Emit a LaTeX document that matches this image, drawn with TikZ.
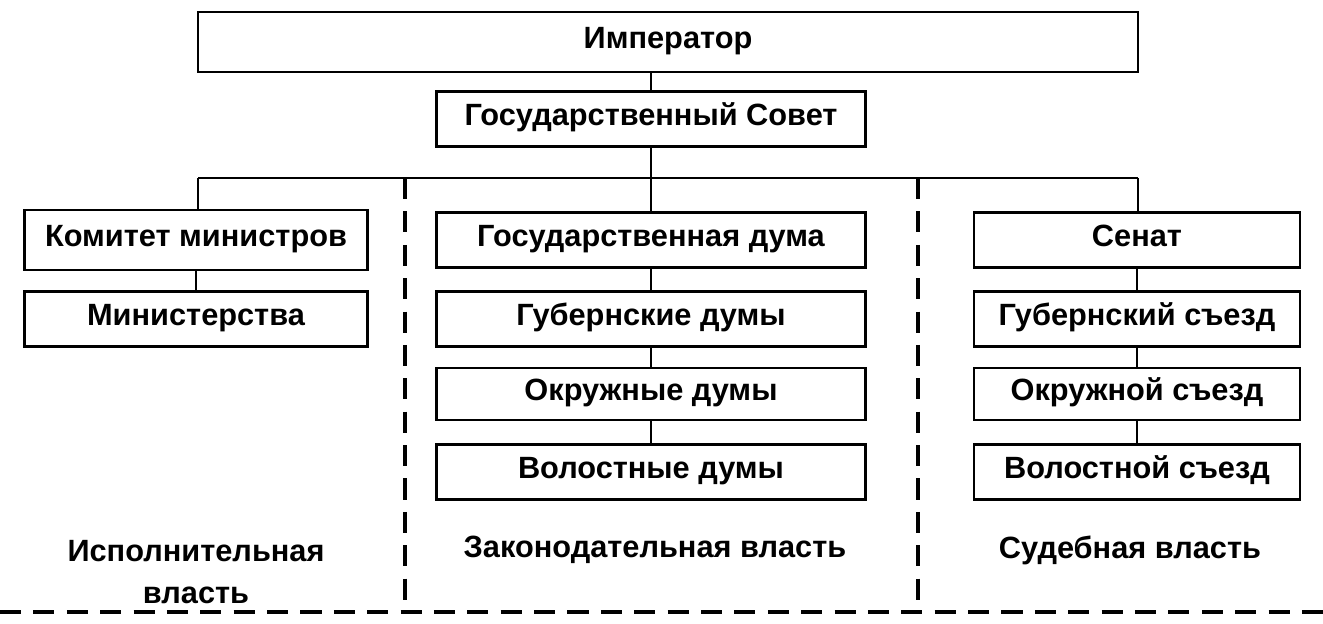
\documentclass[tikz,border=0pt]{standalone}
\usepackage{fontspec}
\setmainfont{Liberation Sans}
\begin{document}
\begin{tikzpicture}[x=0.02cm,y=-0.02cm,
  box/.style={draw,line width=1.4pt,minimum height=1.1cm,inner sep=0pt,text height=1.6ex,text depth=0.1ex,font=\fontsize{17.5}{20}\selectfont\bfseries},
  lbl/.style={align=center,font=\fontsize{17.5}{24}\selectfont\bfseries},
  brd/.style={line width=2pt,dash pattern=on 12pt off 7pt}]
\useasboundingbox (0,0) rectangle (1323,624);
% top
\node[box,minimum width=18.8cm,minimum height=1.2cm] (imp) at (668,42) {Император};
\node[box,minimum width=8.58cm] (sov) at (651,119) {Государственный Совет};
% executive
\node[box,minimum width=6.86cm,minimum height=1.2cm] (kom) at (196,240) {Комитет министров};
\node[box,minimum width=6.86cm] (min) at (196,319) {Министерства};
% legislative
\node[box,minimum width=8.58cm] (gd) at (651,240) {Государственная дума};
\node[box,minimum width=8.58cm] (gub) at (651,319) {Губернские думы};
\node[box,minimum width=8.58cm,minimum height=1.04cm] (okr) at (651,394) {Окружные думы};
\node[box,minimum width=8.58cm] (vol) at (651,472) {Волостные думы};
% judicial
\node[box,minimum width=6.52cm] (sen) at (1137,240) {Сенат};
\node[box,minimum width=6.52cm] (gsz) at (1137,319) {Губернский съезд};
\node[box,minimum width=6.52cm,minimum height=1.04cm] (osz) at (1137,394) {Окружной съезд};
\node[box,minimum width=6.52cm] (vsz) at (1137,472) {Волостной съезд};
% links
\coordinate (hl) at (198,178);
\coordinate (hr) at (1138,178);
\draw[line width=1.2pt] (sov.north) -- (sov.north |- imp.south);
\draw[line width=1.2pt] (sov) -- (gd);
\draw[line width=1.2pt] (hl) -- (hr);
\draw[line width=1.2pt] (hl) -- (hl |- kom.north);
\draw[line width=1.2pt] (hr) -- (hr |- sen.north);
\draw[line width=1.2pt] (kom) -- (min);
\draw[line width=1.2pt] (gd) -- (gub) -- (okr) -- (vol);
\draw[line width=1.2pt] (sen) -- (gsz) -- (osz) -- (vsz);
% borders
\draw[brd] (405,178) -- (405,612);
\draw[brd] (918,178) -- (918,612);
\draw[brd] (0,612) -- (1323,612);
% labels
\node[lbl] (ex) at (196,572) {Исполнительная\\власть};
\node[lbl] (le) at (655,550) {Законодательная власть};
\node[lbl] (ju) at (1130,550) {Судебная власть};
\end{tikzpicture}
\end{document}
